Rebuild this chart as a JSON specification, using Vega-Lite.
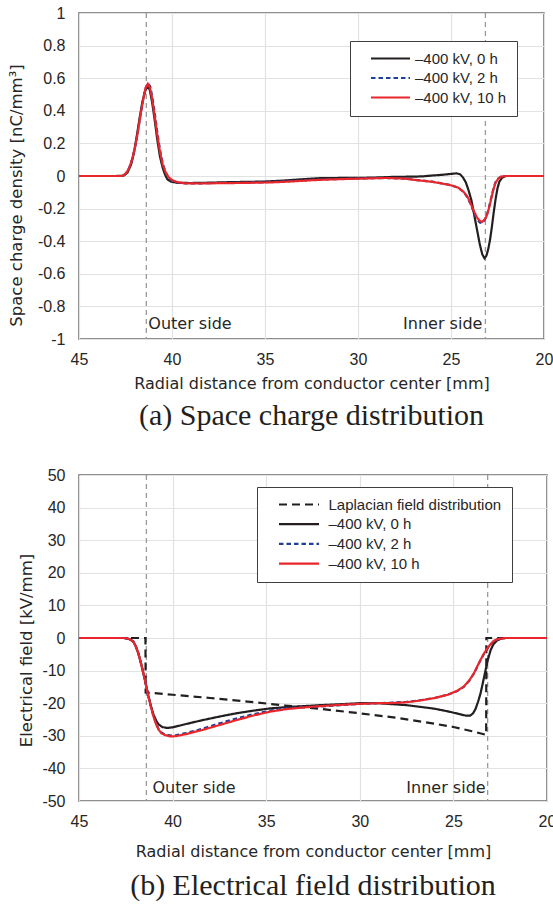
{
  "$schema": "https://vega.github.io/schema/vega-lite/v6.json",
  "background": "white",
  "padding": {"left": 7, "top": 4, "right": 0, "bottom": 0},
  "spacing": 34,
  "resolve": {"scale": {"color": "independent", "strokeDash": "independent"}},
  "datasets": {
    "rho": [
      {"r":45,"v":0,"s":"–400 kV, 0 h"},{"r":43,"v":0,"s":"–400 kV, 0 h"},{"r":42.6,"v":0.002,"s":"–400 kV, 0 h"},{"r":42.4,"v":0.02,"s":"–400 kV, 0 h"},{"r":42.2,"v":0.07,"s":"–400 kV, 0 h"},{"r":42.05,"v":0.14,"s":"–400 kV, 0 h"},{"r":41.9,"v":0.24,"s":"–400 kV, 0 h"},{"r":41.75,"v":0.35,"s":"–400 kV, 0 h"},{"r":41.6,"v":0.45,"s":"–400 kV, 0 h"},{"r":41.45,"v":0.52,"s":"–400 kV, 0 h"},{"r":41.32,"v":0.55,"s":"–400 kV, 0 h"},{"r":41.2,"v":0.53,"s":"–400 kV, 0 h"},{"r":41.08,"v":0.46,"s":"–400 kV, 0 h"},{"r":40.95,"v":0.36,"s":"–400 kV, 0 h"},{"r":40.8,"v":0.23,"s":"–400 kV, 0 h"},{"r":40.65,"v":0.12,"s":"–400 kV, 0 h"},{"r":40.5,"v":0.05,"s":"–400 kV, 0 h"},{"r":40.38,"v":0.01,"s":"–400 kV, 0 h"},{"r":40.25,"v":-0.02,"s":"–400 kV, 0 h"},{"r":40.05,"v":-0.035,"s":"–400 kV, 0 h"},{"r":39.7,"v":-0.042,"s":"–400 kV, 0 h"},{"r":39,"v":-0.043,"s":"–400 kV, 0 h"},{"r":38,"v":-0.041,"s":"–400 kV, 0 h"},{"r":37,"v":-0.038,"s":"–400 kV, 0 h"},{"r":36,"v":-0.036,"s":"–400 kV, 0 h"},{"r":35,"v":-0.034,"s":"–400 kV, 0 h"},{"r":34,"v":-0.028,"s":"–400 kV, 0 h"},{"r":33,"v":-0.02,"s":"–400 kV, 0 h"},{"r":32,"v":-0.013,"s":"–400 kV, 0 h"},{"r":31,"v":-0.012,"s":"–400 kV, 0 h"},{"r":30,"v":-0.012,"s":"–400 kV, 0 h"},{"r":29,"v":-0.009,"s":"–400 kV, 0 h"},{"r":28,"v":-0.005,"s":"–400 kV, 0 h"},{"r":27,"v":-0.004,"s":"–400 kV, 0 h"},{"r":26.5,"v":-0.002,"s":"–400 kV, 0 h"},{"r":26,"v":0.003,"s":"–400 kV, 0 h"},{"r":25.5,"v":0.007,"s":"–400 kV, 0 h"},{"r":25,"v":0.013,"s":"–400 kV, 0 h"},{"r":24.7,"v":0.016,"s":"–400 kV, 0 h"},{"r":24.5,"v":0.01,"s":"–400 kV, 0 h"},{"r":24.35,"v":-0.01,"s":"–400 kV, 0 h"},{"r":24.2,"v":-0.04,"s":"–400 kV, 0 h"},{"r":24.05,"v":-0.09,"s":"–400 kV, 0 h"},{"r":23.9,"v":-0.15,"s":"–400 kV, 0 h"},{"r":23.75,"v":-0.24,"s":"–400 kV, 0 h"},{"r":23.6,"v":-0.33,"s":"–400 kV, 0 h"},{"r":23.45,"v":-0.42,"s":"–400 kV, 0 h"},{"r":23.32,"v":-0.48,"s":"–400 kV, 0 h"},{"r":23.2,"v":-0.505,"s":"–400 kV, 0 h"},{"r":23.1,"v":-0.49,"s":"–400 kV, 0 h"},{"r":23,"v":-0.45,"s":"–400 kV, 0 h"},{"r":22.9,"v":-0.39,"s":"–400 kV, 0 h"},{"r":22.8,"v":-0.31,"s":"–400 kV, 0 h"},{"r":22.7,"v":-0.22,"s":"–400 kV, 0 h"},{"r":22.6,"v":-0.14,"s":"–400 kV, 0 h"},{"r":22.5,"v":-0.075,"s":"–400 kV, 0 h"},{"r":22.4,"v":-0.035,"s":"–400 kV, 0 h"},{"r":22.25,"v":-0.01,"s":"–400 kV, 0 h"},{"r":22.05,"v":0,"s":"–400 kV, 0 h"},{"r":20,"v":0,"s":"–400 kV, 0 h"},
      {"r":45,"v":0,"s":"–400 kV, 2 h"},{"r":42.75,"v":0,"s":"–400 kV, 2 h"},{"r":42.6,"v":0.004,"s":"–400 kV, 2 h"},{"r":42.45,"v":0.02,"s":"–400 kV, 2 h"},{"r":42.3,"v":0.05,"s":"–400 kV, 2 h"},{"r":42.15,"v":0.1,"s":"–400 kV, 2 h"},{"r":42,"v":0.17,"s":"–400 kV, 2 h"},{"r":41.85,"v":0.26,"s":"–400 kV, 2 h"},{"r":41.7,"v":0.37,"s":"–400 kV, 2 h"},{"r":41.55,"v":0.47,"s":"–400 kV, 2 h"},{"r":41.42,"v":0.54,"s":"–400 kV, 2 h"},{"r":41.3,"v":0.57,"s":"–400 kV, 2 h"},{"r":41.17,"v":0.55,"s":"–400 kV, 2 h"},{"r":41.05,"v":0.48,"s":"–400 kV, 2 h"},{"r":40.92,"v":0.38,"s":"–400 kV, 2 h"},{"r":40.78,"v":0.26,"s":"–400 kV, 2 h"},{"r":40.63,"v":0.15,"s":"–400 kV, 2 h"},{"r":40.48,"v":0.07,"s":"–400 kV, 2 h"},{"r":40.33,"v":0.02,"s":"–400 kV, 2 h"},{"r":40.18,"v":-0.01,"s":"–400 kV, 2 h"},{"r":40,"v":-0.03,"s":"–400 kV, 2 h"},{"r":39.7,"v":-0.04,"s":"–400 kV, 2 h"},{"r":39.3,"v":-0.045,"s":"–400 kV, 2 h"},{"r":38.5,"v":-0.045,"s":"–400 kV, 2 h"},{"r":37.5,"v":-0.043,"s":"–400 kV, 2 h"},{"r":36.5,"v":-0.041,"s":"–400 kV, 2 h"},{"r":35.5,"v":-0.039,"s":"–400 kV, 2 h"},{"r":34.6,"v":-0.036,"s":"–400 kV, 2 h"},{"r":33.5,"v":-0.03,"s":"–400 kV, 2 h"},{"r":32.5,"v":-0.024,"s":"–400 kV, 2 h"},{"r":31.5,"v":-0.02,"s":"–400 kV, 2 h"},{"r":30.5,"v":-0.017,"s":"–400 kV, 2 h"},{"r":29.5,"v":-0.014,"s":"–400 kV, 2 h"},{"r":28.5,"v":-0.012,"s":"–400 kV, 2 h"},{"r":27.5,"v":-0.016,"s":"–400 kV, 2 h"},{"r":26.8,"v":-0.025,"s":"–400 kV, 2 h"},{"r":26,"v":-0.035,"s":"–400 kV, 2 h"},{"r":25.5,"v":-0.045,"s":"–400 kV, 2 h"},{"r":25,"v":-0.056,"s":"–400 kV, 2 h"},{"r":24.6,"v":-0.072,"s":"–400 kV, 2 h"},{"r":24.3,"v":-0.1,"s":"–400 kV, 2 h"},{"r":24.1,"v":-0.135,"s":"–400 kV, 2 h"},{"r":23.9,"v":-0.185,"s":"–400 kV, 2 h"},{"r":23.75,"v":-0.23,"s":"–400 kV, 2 h"},{"r":23.6,"v":-0.265,"s":"–400 kV, 2 h"},{"r":23.45,"v":-0.285,"s":"–400 kV, 2 h"},{"r":23.33,"v":-0.29,"s":"–400 kV, 2 h"},{"r":23.22,"v":-0.275,"s":"–400 kV, 2 h"},{"r":23.1,"v":-0.25,"s":"–400 kV, 2 h"},{"r":23,"v":-0.21,"s":"–400 kV, 2 h"},{"r":22.9,"v":-0.165,"s":"–400 kV, 2 h"},{"r":22.8,"v":-0.115,"s":"–400 kV, 2 h"},{"r":22.7,"v":-0.07,"s":"–400 kV, 2 h"},{"r":22.6,"v":-0.037,"s":"–400 kV, 2 h"},{"r":22.45,"v":-0.014,"s":"–400 kV, 2 h"},{"r":22.3,"v":-0.004,"s":"–400 kV, 2 h"},{"r":22.1,"v":0,"s":"–400 kV, 2 h"},{"r":20,"v":0,"s":"–400 kV, 2 h"},
      {"r":45,"v":0,"s":"–400 kV, 10 h"},{"r":42.75,"v":0,"s":"–400 kV, 10 h"},{"r":42.6,"v":0.004,"s":"–400 kV, 10 h"},{"r":42.45,"v":0.02,"s":"–400 kV, 10 h"},{"r":42.3,"v":0.05,"s":"–400 kV, 10 h"},{"r":42.15,"v":0.1,"s":"–400 kV, 10 h"},{"r":42,"v":0.17,"s":"–400 kV, 10 h"},{"r":41.85,"v":0.26,"s":"–400 kV, 10 h"},{"r":41.7,"v":0.37,"s":"–400 kV, 10 h"},{"r":41.55,"v":0.47,"s":"–400 kV, 10 h"},{"r":41.42,"v":0.54,"s":"–400 kV, 10 h"},{"r":41.3,"v":0.565,"s":"–400 kV, 10 h"},{"r":41.18,"v":0.54,"s":"–400 kV, 10 h"},{"r":41.06,"v":0.47,"s":"–400 kV, 10 h"},{"r":40.93,"v":0.37,"s":"–400 kV, 10 h"},{"r":40.8,"v":0.26,"s":"–400 kV, 10 h"},{"r":40.65,"v":0.15,"s":"–400 kV, 10 h"},{"r":40.5,"v":0.07,"s":"–400 kV, 10 h"},{"r":40.35,"v":0.025,"s":"–400 kV, 10 h"},{"r":40.2,"v":-0.005,"s":"–400 kV, 10 h"},{"r":40,"v":-0.025,"s":"–400 kV, 10 h"},{"r":39.7,"v":-0.038,"s":"–400 kV, 10 h"},{"r":39.3,"v":-0.045,"s":"–400 kV, 10 h"},{"r":38.5,"v":-0.046,"s":"–400 kV, 10 h"},{"r":37.5,"v":-0.044,"s":"–400 kV, 10 h"},{"r":36.5,"v":-0.043,"s":"–400 kV, 10 h"},{"r":35.5,"v":-0.041,"s":"–400 kV, 10 h"},{"r":34.6,"v":-0.039,"s":"–400 kV, 10 h"},{"r":33.5,"v":-0.033,"s":"–400 kV, 10 h"},{"r":32.5,"v":-0.026,"s":"–400 kV, 10 h"},{"r":31.5,"v":-0.021,"s":"–400 kV, 10 h"},{"r":30.5,"v":-0.018,"s":"–400 kV, 10 h"},{"r":29.5,"v":-0.015,"s":"–400 kV, 10 h"},{"r":28.5,"v":-0.012,"s":"–400 kV, 10 h"},{"r":27.5,"v":-0.016,"s":"–400 kV, 10 h"},{"r":26.8,"v":-0.026,"s":"–400 kV, 10 h"},{"r":26,"v":-0.036,"s":"–400 kV, 10 h"},{"r":25.5,"v":-0.046,"s":"–400 kV, 10 h"},{"r":25,"v":-0.057,"s":"–400 kV, 10 h"},{"r":24.6,"v":-0.072,"s":"–400 kV, 10 h"},{"r":24.3,"v":-0.1,"s":"–400 kV, 10 h"},{"r":24.1,"v":-0.13,"s":"–400 kV, 10 h"},{"r":23.9,"v":-0.18,"s":"–400 kV, 10 h"},{"r":23.75,"v":-0.22,"s":"–400 kV, 10 h"},{"r":23.6,"v":-0.255,"s":"–400 kV, 10 h"},{"r":23.45,"v":-0.275,"s":"–400 kV, 10 h"},{"r":23.33,"v":-0.282,"s":"–400 kV, 10 h"},{"r":23.22,"v":-0.27,"s":"–400 kV, 10 h"},{"r":23.1,"v":-0.25,"s":"–400 kV, 10 h"},{"r":23,"v":-0.215,"s":"–400 kV, 10 h"},{"r":22.9,"v":-0.17,"s":"–400 kV, 10 h"},{"r":22.8,"v":-0.12,"s":"–400 kV, 10 h"},{"r":22.7,"v":-0.075,"s":"–400 kV, 10 h"},{"r":22.6,"v":-0.04,"s":"–400 kV, 10 h"},{"r":22.45,"v":-0.015,"s":"–400 kV, 10 h"},{"r":22.3,"v":-0.004,"s":"–400 kV, 10 h"},{"r":22.1,"v":0,"s":"–400 kV, 10 h"},{"r":20,"v":0,"s":"–400 kV, 10 h"}
    ],
    "ef": [
      {"r":45,"v":0,"s":"Laplacian field distribution"},{"r":41.45,"v":0,"s":"Laplacian field distribution"},{"r":41.44,"v":-16.7,"s":"Laplacian field distribution"},{"r":40,"v":-17.4,"s":"Laplacian field distribution"},{"r":38,"v":-18.4,"s":"Laplacian field distribution"},{"r":36,"v":-19.5,"s":"Laplacian field distribution"},{"r":35,"v":-20.1,"s":"Laplacian field distribution"},{"r":34,"v":-20.7,"s":"Laplacian field distribution"},{"r":32,"v":-21.8,"s":"Laplacian field distribution"},{"r":30,"v":-23.1,"s":"Laplacian field distribution"},{"r":28,"v":-24.5,"s":"Laplacian field distribution"},{"r":26,"v":-26.3,"s":"Laplacian field distribution"},{"r":25,"v":-27.3,"s":"Laplacian field distribution"},{"r":24,"v":-28.6,"s":"Laplacian field distribution"},{"r":23.25,"v":-29.7,"s":"Laplacian field distribution"},{"r":23.24,"v":0,"s":"Laplacian field distribution"},{"r":20,"v":0,"s":"Laplacian field distribution"},
      {"r":45,"v":0,"s":"–400 kV, 0 h"},{"r":42.6,"v":0,"s":"–400 kV, 0 h"},{"r":42.4,"v":-0.2,"s":"–400 kV, 0 h"},{"r":42.25,"v":-0.5,"s":"–400 kV, 0 h"},{"r":42.1,"v":-1.1,"s":"–400 kV, 0 h"},{"r":41.97,"v":-2.5,"s":"–400 kV, 0 h"},{"r":41.83,"v":-4.7,"s":"–400 kV, 0 h"},{"r":41.7,"v":-7.5,"s":"–400 kV, 0 h"},{"r":41.56,"v":-10.8,"s":"–400 kV, 0 h"},{"r":41.42,"v":-14.4,"s":"–400 kV, 0 h"},{"r":41.29,"v":-17.8,"s":"–400 kV, 0 h"},{"r":41.15,"v":-21,"s":"–400 kV, 0 h"},{"r":41.02,"v":-23.5,"s":"–400 kV, 0 h"},{"r":40.88,"v":-25.3,"s":"–400 kV, 0 h"},{"r":40.75,"v":-26.5,"s":"–400 kV, 0 h"},{"r":40.55,"v":-27.3,"s":"–400 kV, 0 h"},{"r":40.3,"v":-27.6,"s":"–400 kV, 0 h"},{"r":40,"v":-27.4,"s":"–400 kV, 0 h"},{"r":39.5,"v":-26.7,"s":"–400 kV, 0 h"},{"r":39,"v":-26,"s":"–400 kV, 0 h"},{"r":38.4,"v":-25.2,"s":"–400 kV, 0 h"},{"r":37.5,"v":-24.1,"s":"–400 kV, 0 h"},{"r":36.6,"v":-23.1,"s":"–400 kV, 0 h"},{"r":35.7,"v":-22.3,"s":"–400 kV, 0 h"},{"r":34.8,"v":-21.6,"s":"–400 kV, 0 h"},{"r":33.9,"v":-21.2,"s":"–400 kV, 0 h"},{"r":33,"v":-20.9,"s":"–400 kV, 0 h"},{"r":32.1,"v":-20.6,"s":"–400 kV, 0 h"},{"r":31,"v":-20.3,"s":"–400 kV, 0 h"},{"r":30,"v":-20,"s":"–400 kV, 0 h"},{"r":29,"v":-20,"s":"–400 kV, 0 h"},{"r":28.5,"v":-20.2,"s":"–400 kV, 0 h"},{"r":27.5,"v":-20.6,"s":"–400 kV, 0 h"},{"r":26.8,"v":-21.1,"s":"–400 kV, 0 h"},{"r":26,"v":-21.7,"s":"–400 kV, 0 h"},{"r":25.3,"v":-22.5,"s":"–400 kV, 0 h"},{"r":24.7,"v":-23.3,"s":"–400 kV, 0 h"},{"r":24.35,"v":-23.8,"s":"–400 kV, 0 h"},{"r":24.1,"v":-23.8,"s":"–400 kV, 0 h"},{"r":23.95,"v":-23.1,"s":"–400 kV, 0 h"},{"r":23.82,"v":-21.8,"s":"–400 kV, 0 h"},{"r":23.68,"v":-19.5,"s":"–400 kV, 0 h"},{"r":23.55,"v":-17,"s":"–400 kV, 0 h"},{"r":23.42,"v":-13.6,"s":"–400 kV, 0 h"},{"r":23.28,"v":-9.8,"s":"–400 kV, 0 h"},{"r":23.15,"v":-6.5,"s":"–400 kV, 0 h"},{"r":23.01,"v":-3.7,"s":"–400 kV, 0 h"},{"r":22.85,"v":-1.8,"s":"–400 kV, 0 h"},{"r":22.65,"v":-0.7,"s":"–400 kV, 0 h"},{"r":22.45,"v":-0.2,"s":"–400 kV, 0 h"},{"r":22.25,"v":0,"s":"–400 kV, 0 h"},{"r":20,"v":0,"s":"–400 kV, 0 h"},
      {"r":45,"v":0,"s":"–400 kV, 2 h"},{"r":42.6,"v":0,"s":"–400 kV, 2 h"},{"r":42.4,"v":-0.2,"s":"–400 kV, 2 h"},{"r":42.25,"v":-0.5,"s":"–400 kV, 2 h"},{"r":42.1,"v":-1.1,"s":"–400 kV, 2 h"},{"r":41.97,"v":-2.5,"s":"–400 kV, 2 h"},{"r":41.83,"v":-4.7,"s":"–400 kV, 2 h"},{"r":41.7,"v":-7.5,"s":"–400 kV, 2 h"},{"r":41.56,"v":-10.8,"s":"–400 kV, 2 h"},{"r":41.42,"v":-14.5,"s":"–400 kV, 2 h"},{"r":41.29,"v":-18,"s":"–400 kV, 2 h"},{"r":41.15,"v":-21.2,"s":"–400 kV, 2 h"},{"r":41.02,"v":-24,"s":"–400 kV, 2 h"},{"r":40.88,"v":-26.3,"s":"–400 kV, 2 h"},{"r":40.75,"v":-27.9,"s":"–400 kV, 2 h"},{"r":40.6,"v":-29,"s":"–400 kV, 2 h"},{"r":40.4,"v":-29.6,"s":"–400 kV, 2 h"},{"r":40.1,"v":-29.9,"s":"–400 kV, 2 h"},{"r":39.8,"v":-29.8,"s":"–400 kV, 2 h"},{"r":39.3,"v":-29.2,"s":"–400 kV, 2 h"},{"r":38.4,"v":-27.8,"s":"–400 kV, 2 h"},{"r":37.5,"v":-26.2,"s":"–400 kV, 2 h"},{"r":36.6,"v":-24.7,"s":"–400 kV, 2 h"},{"r":35.7,"v":-23.4,"s":"–400 kV, 2 h"},{"r":34.8,"v":-22.3,"s":"–400 kV, 2 h"},{"r":33.9,"v":-21.6,"s":"–400 kV, 2 h"},{"r":33,"v":-21.2,"s":"–400 kV, 2 h"},{"r":32.1,"v":-21,"s":"–400 kV, 2 h"},{"r":31,"v":-20.6,"s":"–400 kV, 2 h"},{"r":30,"v":-20.2,"s":"–400 kV, 2 h"},{"r":29,"v":-20,"s":"–400 kV, 2 h"},{"r":28.5,"v":-19.9,"s":"–400 kV, 2 h"},{"r":27.5,"v":-19.6,"s":"–400 kV, 2 h"},{"r":26.8,"v":-19.1,"s":"–400 kV, 2 h"},{"r":26,"v":-18.4,"s":"–400 kV, 2 h"},{"r":25.3,"v":-17.4,"s":"–400 kV, 2 h"},{"r":24.8,"v":-16.3,"s":"–400 kV, 2 h"},{"r":24.45,"v":-15,"s":"–400 kV, 2 h"},{"r":24.15,"v":-13.1,"s":"–400 kV, 2 h"},{"r":23.9,"v":-10.9,"s":"–400 kV, 2 h"},{"r":23.7,"v":-8.5,"s":"–400 kV, 2 h"},{"r":23.55,"v":-6.8,"s":"–400 kV, 2 h"},{"r":23.35,"v":-4.7,"s":"–400 kV, 2 h"},{"r":23.19,"v":-3.3,"s":"–400 kV, 2 h"},{"r":23,"v":-1.9,"s":"–400 kV, 2 h"},{"r":22.83,"v":-0.9,"s":"–400 kV, 2 h"},{"r":22.6,"v":-0.3,"s":"–400 kV, 2 h"},{"r":22.38,"v":-0.1,"s":"–400 kV, 2 h"},{"r":22.2,"v":0,"s":"–400 kV, 2 h"},{"r":20,"v":0,"s":"–400 kV, 2 h"},
      {"r":45,"v":0,"s":"–400 kV, 10 h"},{"r":42.6,"v":0,"s":"–400 kV, 10 h"},{"r":42.4,"v":-0.2,"s":"–400 kV, 10 h"},{"r":42.25,"v":-0.5,"s":"–400 kV, 10 h"},{"r":42.1,"v":-1.1,"s":"–400 kV, 10 h"},{"r":41.97,"v":-2.5,"s":"–400 kV, 10 h"},{"r":41.83,"v":-4.7,"s":"–400 kV, 10 h"},{"r":41.7,"v":-7.5,"s":"–400 kV, 10 h"},{"r":41.56,"v":-10.8,"s":"–400 kV, 10 h"},{"r":41.42,"v":-14.5,"s":"–400 kV, 10 h"},{"r":41.29,"v":-18,"s":"–400 kV, 10 h"},{"r":41.15,"v":-21.3,"s":"–400 kV, 10 h"},{"r":41.02,"v":-24.1,"s":"–400 kV, 10 h"},{"r":40.88,"v":-26.5,"s":"–400 kV, 10 h"},{"r":40.75,"v":-28.1,"s":"–400 kV, 10 h"},{"r":40.6,"v":-29.2,"s":"–400 kV, 10 h"},{"r":40.4,"v":-29.8,"s":"–400 kV, 10 h"},{"r":40.1,"v":-30.2,"s":"–400 kV, 10 h"},{"r":39.8,"v":-30.1,"s":"–400 kV, 10 h"},{"r":39.3,"v":-29.5,"s":"–400 kV, 10 h"},{"r":38.4,"v":-28.2,"s":"–400 kV, 10 h"},{"r":37.5,"v":-26.7,"s":"–400 kV, 10 h"},{"r":36.6,"v":-25.2,"s":"–400 kV, 10 h"},{"r":35.7,"v":-23.8,"s":"–400 kV, 10 h"},{"r":34.8,"v":-22.6,"s":"–400 kV, 10 h"},{"r":33.9,"v":-21.8,"s":"–400 kV, 10 h"},{"r":33,"v":-21.3,"s":"–400 kV, 10 h"},{"r":32.1,"v":-20.9,"s":"–400 kV, 10 h"},{"r":31,"v":-20.5,"s":"–400 kV, 10 h"},{"r":30,"v":-20.2,"s":"–400 kV, 10 h"},{"r":29,"v":-20,"s":"–400 kV, 10 h"},{"r":28.5,"v":-20,"s":"–400 kV, 10 h"},{"r":27.5,"v":-19.7,"s":"–400 kV, 10 h"},{"r":26.8,"v":-19.2,"s":"–400 kV, 10 h"},{"r":26,"v":-18.4,"s":"–400 kV, 10 h"},{"r":25.3,"v":-17.4,"s":"–400 kV, 10 h"},{"r":24.8,"v":-16.2,"s":"–400 kV, 10 h"},{"r":24.45,"v":-14.9,"s":"–400 kV, 10 h"},{"r":24.15,"v":-13,"s":"–400 kV, 10 h"},{"r":23.9,"v":-10.8,"s":"–400 kV, 10 h"},{"r":23.7,"v":-8.4,"s":"–400 kV, 10 h"},{"r":23.55,"v":-6.7,"s":"–400 kV, 10 h"},{"r":23.35,"v":-4.6,"s":"–400 kV, 10 h"},{"r":23.19,"v":-3.2,"s":"–400 kV, 10 h"},{"r":23,"v":-1.8,"s":"–400 kV, 10 h"},{"r":22.83,"v":-0.8,"s":"–400 kV, 10 h"},{"r":22.6,"v":-0.3,"s":"–400 kV, 10 h"},{"r":22.38,"v":-0.1,"s":"–400 kV, 10 h"},{"r":22.2,"v":0,"s":"–400 kV, 10 h"},{"r":20,"v":0,"s":"–400 kV, 10 h"}
    ]
  },
  "vconcat": [
    {
      "width": 465,
      "height": 326,
      "title": {"text": "(a) Space charge distribution", "orient": "bottom", "anchor": "middle", "font": "Liberation Serif", "fontSize": 30, "fontWeight": "normal", "color": "#231f20", "offset": 10},
      "layer": [
        {
          "data": {"values": [{"r": 41.38}, {"r": 23.15}]},
          "mark": {"type": "rule", "color": "#9a9a9a", "strokeDash": [5, 4], "strokeWidth": 1.3},
          "encoding": {
            "x": {"field": "r", "type": "quantitative", "scale": {"domain": [20, 45], "reverse": true, "nice": false, "zero": false}, "axis": {"values": [20, 25, 30, 35, 40, 45], "tickCount": 6, "title": "Radial distance from conductor center [mm]", "labelPadding": 12, "titlePadding": 8, "labelOverlap": false, "grid": true}}
          }
        },
        {
          "data": {"name": "rho"},
          "mark": {"type": "line", "strokeWidth": 2.2},
          "encoding": {
            "x": {"field": "r", "type": "quantitative", "scale": {"domain": [20, 45], "reverse": true, "nice": false, "zero": false}, "axis": {"values": [20, 25, 30, 35, 40, 45], "tickCount": 6, "title": "Radial distance from conductor center [mm]", "labelPadding": 12, "titlePadding": 8, "labelOverlap": false, "grid": true}},
            "y": {"field": "v", "type": "quantitative", "scale": {"domain": [-1, 1], "nice": false, "zero": false}, "axis": {"values": [-1, -0.8, -0.6, -0.4, -0.2, 0, 0.2, 0.4, 0.6, 0.8, 1], "tickCount": 11, "labelExpr": "(datum.value < 0 ? '-' : '') + format(abs(datum.value), '~g')", "title": "Space charge density [nC/mm³]", "labelPadding": 14, "labelOverlap": false, "grid": true, "titleX": -54.5, "titleY": 182}},
            "color": {"field": "s", "type": "nominal", "scale": {"domain": ["–400 kV, 0 h", "–400 kV, 2 h", "–400 kV, 10 h"], "range": ["#231f20", "#1f3f9a", "#e8262b"]},
              "legend": {"title": null, "orient": "none", "legendX": 271, "legendY": 28, "padding": 10, "strokeColor": "#3f3f3f", "fillColor": "#ffffff", "symbolType": "M0,0H12", "symbolSize": 42.25, "symbolStrokeWidth": 2.2, "labelFont": "Liberation Sans", "labelFontSize": 15, "labelColor": "#262626", "labelOffset": 36.5, "symbolOffset": 3.5, "rowPadding": 3.5, "labelLimit": 300, "labelExpr": "datum.label + '\u00a0\u00a0\u00a0\u00a0'"}},
            "strokeDash": {"field": "s", "type": "nominal", "scale": {"domain": ["–400 kV, 0 h", "–400 kV, 2 h", "–400 kV, 10 h"], "range": [[1, 0], [4.5, 3], [1, 0]]},
              "legend": {"title": null, "orient": "none", "legendX": 271, "legendY": 28, "padding": 10, "strokeColor": "#3f3f3f", "fillColor": "#ffffff", "symbolType": "M0,0H12", "symbolSize": 42.25, "symbolStrokeWidth": 2.2, "labelFont": "Liberation Sans", "labelFontSize": 15, "labelColor": "#262626", "labelOffset": 36.5, "symbolOffset": 3.5, "rowPadding": 3.5, "labelLimit": 300, "labelExpr": "datum.label + '\u00a0\u00a0\u00a0\u00a0'"}}
          }
        },
        {
          "data": {"values": [{"r": 41.38, "v": -0.91, "t": "Outer side"}]},
          "mark": {"type": "text", "align": "left", "baseline": "middle", "dx": 2, "font": "DejaVu Sans", "fontSize": 16, "color": "#262626"},
          "encoding": {
            "x": {"field": "r", "type": "quantitative"},
            "y": {"field": "v", "type": "quantitative"},
            "text": {"field": "t"}
          }
        },
        {
          "data": {"values": [{"r": 23.15, "v": -0.91, "t": "Inner side"}]},
          "mark": {"type": "text", "align": "right", "baseline": "middle", "dx": -3, "font": "DejaVu Sans", "fontSize": 16, "color": "#262626"},
          "encoding": {
            "x": {"field": "r", "type": "quantitative"},
            "y": {"field": "v", "type": "quantitative"},
            "text": {"field": "t"}
          }
        }
      ]
    },
    {
      "width": 468,
      "height": 326,
      "title": {"text": "(b) Electrical field distribution", "orient": "bottom", "anchor": "middle", "font": "Liberation Serif", "fontSize": 30, "fontWeight": "normal", "color": "#231f20", "offset": 12},
      "layer": [
        {
          "data": {"values": [{"r": 41.4}, {"r": 23.17}]},
          "mark": {"type": "rule", "color": "#9a9a9a", "strokeDash": [5, 4], "strokeWidth": 1.3},
          "encoding": {
            "x": {"field": "r", "type": "quantitative", "scale": {"domain": [20, 45], "reverse": true, "nice": false, "zero": false}, "axis": {"values": [20, 25, 30, 35, 40, 45], "tickCount": 6, "title": "Radial distance from conductor center [mm]", "labelPadding": 12, "titlePadding": 14, "labelOverlap": false, "grid": true}}
          }
        },
        {
          "data": {"name": "ef"},
          "mark": {"type": "line", "strokeWidth": 2.2},
          "encoding": {
            "x": {"field": "r", "type": "quantitative", "scale": {"domain": [20, 45], "reverse": true, "nice": false, "zero": false}, "axis": {"values": [20, 25, 30, 35, 40, 45], "tickCount": 6, "title": "Radial distance from conductor center [mm]", "labelPadding": 12, "titlePadding": 14, "labelOverlap": false, "grid": true}},
            "y": {"field": "v", "type": "quantitative", "scale": {"domain": [-50, 50], "nice": false, "zero": false}, "axis": {"values": [-50, -40, -30, -20, -10, 0, 10, 20, 30, 40, 50], "tickCount": 11, "labelExpr": "(datum.value < 0 ? '-' : '') + format(abs(datum.value), '~g')", "title": "Electrical field [kV/mm]", "labelPadding": 14, "labelOverlap": false, "grid": true, "titleX": -44.5, "titleY": 175}},
            "color": {"field": "s", "type": "nominal", "scale": {"domain": ["Laplacian field distribution", "–400 kV, 0 h", "–400 kV, 2 h", "–400 kV, 10 h"], "range": ["#231f20", "#231f20", "#1f3f9a", "#e8262b"]},
              "legend": {"title": null, "orient": "none", "legendX": 178, "legendY": 12, "padding": 10, "strokeColor": "#3f3f3f", "fillColor": "#ffffff", "symbolType": "M0,0H12", "symbolSize": 44.44, "symbolStrokeWidth": 2.2, "labelFont": "Liberation Sans", "labelFontSize": 15, "labelColor": "#262626", "labelOffset": 42, "symbolOffset": 4.5, "rowPadding": 3.7, "labelLimit": 300, "labelExpr": "datum.label + '\u00a0\u00a0\u00a0\u00a0\u00a0\u00a0\u00a0\u00a0'"}},
            "strokeDash": {"field": "s", "type": "nominal", "scale": {"domain": ["Laplacian field distribution", "–400 kV, 0 h", "–400 kV, 2 h", "–400 kV, 10 h"], "range": [[8, 5], [1, 0], [4.5, 3], [1, 0]]},
              "legend": {"title": null, "orient": "none", "legendX": 178, "legendY": 12, "padding": 10, "strokeColor": "#3f3f3f", "fillColor": "#ffffff", "symbolType": "M0,0H12", "symbolSize": 44.44, "symbolStrokeWidth": 2.2, "labelFont": "Liberation Sans", "labelFontSize": 15, "labelColor": "#262626", "labelOffset": 42, "symbolOffset": 4.5, "rowPadding": 3.7, "labelLimit": 300, "labelExpr": "datum.label + '\u00a0\u00a0\u00a0\u00a0\u00a0\u00a0\u00a0\u00a0'"}}
          }
        },
        {
          "data": {"values": [{"r": 41.4, "v": -46, "t": "Outer side"}]},
          "mark": {"type": "text", "align": "left", "baseline": "middle", "dx": 6, "font": "DejaVu Sans", "fontSize": 16, "color": "#262626"},
          "encoding": {
            "x": {"field": "r", "type": "quantitative"},
            "y": {"field": "v", "type": "quantitative"},
            "text": {"field": "t"}
          }
        },
        {
          "data": {"values": [{"r": 23.17, "v": -46, "t": "Inner side"}]},
          "mark": {"type": "text", "align": "right", "baseline": "middle", "dx": -2, "font": "DejaVu Sans", "fontSize": 16, "color": "#262626"},
          "encoding": {
            "x": {"field": "r", "type": "quantitative"},
            "y": {"field": "v", "type": "quantitative"},
            "text": {"field": "t"}
          }
        }
      ]
    }
  ],
  "config": {
    "view": {"stroke": "#6b6b6b", "strokeWidth": 1.6, "fill": "white"},
    "axis": {"domain": false, "ticks": false, "tickSize": 0, "grid": true, "gridColor": "#e2e2e2", "gridWidth": 1.2, "labelFont": "Liberation Sans", "labelFontSize": 16, "labelColor": "#262626", "labelFlush": false, "labelOverlap": false, "titleFont": "DejaVu Sans", "titleFontSize": 16, "titleFontWeight": "normal", "titleColor": "#262626"},
    "axisY": {"titleFontSize": 16.5}
  }
}
